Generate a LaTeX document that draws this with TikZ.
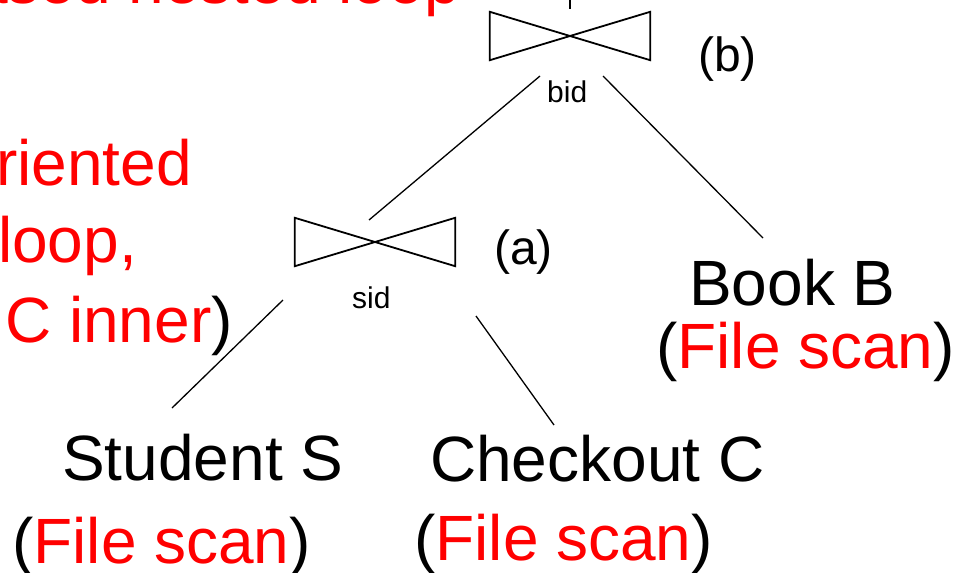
\documentclass[tikz,border=0pt]{standalone}
\usepackage{fontspec}
\setmainfont{Liberation Sans}
\definecolor{hred}{RGB}{255,0,0}
\tikzset{
  big/.style={inner sep=0pt, font=\fontsize{64}{76}\selectfont},
  mid/.style={inner sep=0pt, font=\fontsize{48}{58}\selectfont},
  small/.style={inner sep=0pt, font=\fontsize{30}{36}\selectfont},
  joinbox/.style={rectangle, inner sep=0pt, minimum width=160pt, minimum height=48pt},
  bowtie/.style={line width=1.8pt, line join=miter},
  edge/.style={line width=1.3pt}
}
\begin{document}
\begin{tikzpicture}[x=1pt,y=-1pt]
\useasboundingbox (0,0) rectangle (956,573);
% join operators
\node[joinbox] (jb) at (570,36) {};
\node[joinbox] (ja) at (375,242) {};
\draw[bowtie] (jb.north west) -- (jb.south east) -- (jb.north east) -- (jb.south west) -- cycle;
\draw[bowtie] (ja.north west) -- (ja.south east) -- (ja.north east) -- (ja.south west) -- cycle;
% labels of joins
\node[small, anchor=base west] (bid) at (547,102) {bid};
\node[small, anchor=base west] (sid) at (352,308) {sid};
\node[mid, anchor=base west] (lb) at (698,71) {(b)};
\node[mid, anchor=base west] (la) at (494,264) {(a)};
% relations
\node[big, anchor=base west] (stu) at (62,480) {Student S};
\node[big, anchor=base west] (stus) at (12,563) {(\textcolor{hred}{File scan})};
\node[big, anchor=base west] (chk) at (430,481) {Checkout C};
\node[big, anchor=base west] (chks) at (414,560) {(\textcolor{hred}{File scan})};
\node[big, anchor=base west] (bk) at (689,305) {Book B};
\node[big, anchor=base west] (bks) at (656,368) {(\textcolor{hred}{File scan})};
% cut-off annotation texts
\node[big, anchor=base east, text=hred] (top) at (460,3) {ased nested loop};
\node[big, anchor=base west, text=hred] (l1) at (-4,185) {riented};
\node[big, anchor=base west, text=hred] (l2) at (-2,262) {loop,};
\node[big, anchor=base west] (l3) at (5,342) {\textcolor{hred}{C inner})};
% connectors
\coordinate (up) at ([yshift=40pt]jb.north);
\coordinate (b1) at (540,76);
\coordinate (a1) at (369,220);
\coordinate (b2) at (603,76);
\coordinate (k1) at (763,238);
\coordinate (s1) at (283,300);
\coordinate (t1) at (172,408);
\coordinate (s2) at (476,316);
\coordinate (c1) at (554,425);
\draw[edge] (up) -- ([yshift=3pt]jb.north);
\draw[edge] (b1) -- (a1);
\draw[edge] (b2) -- (k1);
\draw[edge] (s1) -- (t1);
\draw[edge] (s2) -- (c1);
\end{tikzpicture}
\end{document}
